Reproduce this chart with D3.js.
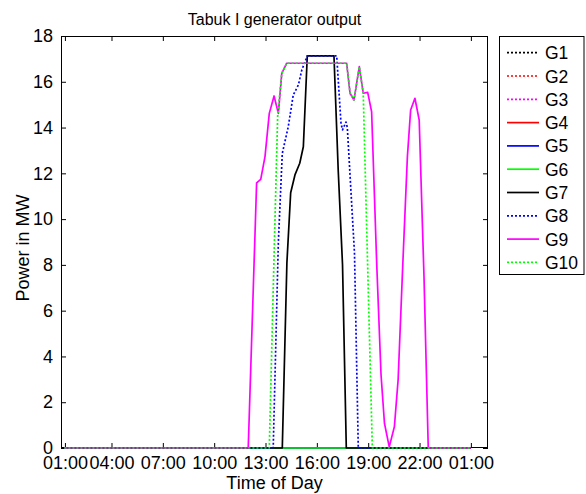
<!DOCTYPE html>
<html>
<head>
<meta charset="utf-8">
<script src="https://cdn.jsdelivr.net/npm/d3@7"></script>
<style>
  html, body { margin: 0; padding: 0; background: #fff; }
  svg { display: block; }
  text { font-family: "Liberation Sans", Arial, Helvetica, sans-serif; fill: #000; }
</style>
</head>
<body>
<svg id="chart" width="586" height="494"></svg>
<script>
// ---- data (hours of day, MW) ----
const seriesNames = ["G1","G2","G3","G4","G5","G6","G7","G8","G9","G10"];
const seriesColors = ["#000000","#ff0000","#ff00ff","#ff0000","#0000ff","#00ff00","#000000","#0000ff","#ff00ff","#00ff00"];
const seriesDotted = [true,true,true,false,false,false,false,true,false,true];

const G1 = [[1.25,0],[25,0]];
const G2 = [[1.25,0],[25,0]];
const G3 = [[1.25,0],[25,0]];
const G4 = [[1.25,0],[25,0]];
const G5 = [[1.25,0],[25,0]];
const G6 = [[1.25,0],[25,0]];
const G7 = [[1.25,0],[13.98,0],[14.25,8.1],[14.47,11.15],[14.72,11.93],[15.0,12.44],[15.21,13.16],[15.44,17.13],[17.0,17.13],[17.25,12.1],[17.5,8.0],[17.72,0],[25,0]];
const G8 = [[1.25,0],[13.45,0],[13.75,9.0],[13.98,12.87],[14.33,14.04],[14.62,15.42],[14.92,15.86],[15.12,16.51],[15.44,17.13],[17.16,17.13],[17.41,14.19],[17.5,13.9],[17.7,14.24],[17.78,14.0],[18.2,8.5],[18.42,0],[25,0]];
const G9 = [[1.25,0],[11.99,0],[12.48,11.58],[12.72,11.74],[12.97,12.73],[13.22,14.62],[13.5,15.38],[13.75,14.62],[13.95,16.37],[14.24,16.81],[17.74,16.81],[17.94,15.5],[18.17,15.2],[18.48,16.66],[18.71,15.5],[18.97,15.54],[19.2,14.69],[19.5,8.0],[19.75,3.2],[19.95,1.08],[20.23,0.05],[20.53,0.93],[20.75,3.0],[21.02,8.0],[21.29,12.73],[21.48,14.77],[21.73,15.28],[21.98,14.33],[22.26,7.5],[22.51,0],[25,0]];
const G10 = [[1.25,0],[13.22,0],[13.5,8.4],[13.71,14.5],[13.95,16.37],[14.24,16.81],[17.74,16.81],[17.94,15.5],[18.17,15.2],[18.48,16.66],[18.71,15.5],[19.24,0],[25,0]];
const seriesData = [G1,G2,G3,G4,G5,G6,G7,G8,G9,G10];

const xTickValues = [1.28, 4, 7, 10, 13, 16, 19, 22, 25];
const xTickLabels = ["01:00","04:00","07:00","10:00","13:00","16:00","19:00","22:00","01:00"];
const yTickValues = [0,2,4,6,8,10,12,14,16,18];

const titleText = "Tabuk I generator output";
const xLabel = "Time of Day";
const yLabel = "Power in MW";

// ---- layout ----
const svg = d3.select("#chart");
const L = 61, R = 488, T = 36, B = 448;
const x = d3.scaleLinear().domain([1.05, 26]).range([L, R]);
const y = d3.scaleLinear().domain([0, 18]).range([B, T]);
const FS = 18;

svg.append("rect").attr("width", 586).attr("height", 494).attr("fill", "#fff");
svg.append("rect").attr("x", L).attr("y", T).attr("width", R - L).attr("height", B - T).attr("fill", "#fff");

// axes (inward ticks, box)
const xAxisB = d3.axisBottom(x).tickValues(xTickValues).tickFormat((d, i) => xTickLabels[i]).tickSizeInner(-5).tickSizeOuter(0).tickPadding(8);
svg.append("g").attr("transform", `translate(0,${B})`).call(xAxisB);
const xAxisT = d3.axisTop(x).tickValues(xTickValues).tickFormat("").tickSizeInner(-5).tickSizeOuter(0);
svg.append("g").attr("transform", `translate(0,${T})`).call(xAxisT);
const yAxisL = d3.axisLeft(y).tickValues(yTickValues).tickSizeInner(-5).tickSizeOuter(0).tickPadding(8);
svg.append("g").attr("transform", `translate(${L},0)`).call(yAxisL);
const yAxisR = d3.axisRight(y).tickValues(yTickValues).tickFormat("").tickSizeInner(-5).tickSizeOuter(0);
svg.append("g").attr("transform", `translate(${R},0)`).call(yAxisR);
svg.selectAll(".domain").remove();
svg.selectAll(".tick line").attr("stroke", "#000").attr("stroke-width", 1);
svg.selectAll(".tick text").style("font-size", FS + "px").attr("fill", "#000");
svg.append("rect").attr("x", L + 0.5).attr("y", T + 0.5).attr("width", R - L - 1).attr("height", B - T - 1)
  .attr("fill", "none").attr("stroke", "#000").attr("stroke-width", 1);

// lines
const line = d3.line().x(d => x(d[0])).y(d => y(d[1]));
seriesData.forEach((data, i) => {
  svg.append("path").datum(data).attr("d", line)
    .attr("fill", "none")
    .attr("stroke", seriesColors[i])
    .attr("stroke-width", 1.7)
    .attr("stroke-linejoin", "round")
    .attr("stroke-dasharray", seriesDotted[i] ? "2,2" : null);
});

// title & labels
svg.append("text").attr("x", (L + R) / 2).attr("y", 25).attr("text-anchor", "middle").style("font-size", "16px").text(titleText);
svg.append("text").attr("x", (L + R) / 2).attr("y", 489).attr("text-anchor", "middle").style("font-size", FS + "px").text(xLabel);
svg.append("text").attr("transform", `translate(29,248) rotate(-90)`).attr("text-anchor", "middle").style("font-size", FS + "px").text(yLabel);

// legend
const lg = svg.append("g");
lg.append("rect").attr("x", 499.5).attr("y", 36.5).attr("width", 84.5).attr("height", 238).attr("fill", "#fff").attr("stroke", "#000").attr("stroke-width", 1);
seriesNames.forEach((name, i) => {
  const cy = 52.7 + i * 23.3;
  lg.append("line").attr("x1", 507).attr("x2", 539).attr("y1", cy).attr("y2", cy)
    .attr("stroke", seriesColors[i]).attr("stroke-width", 1.7)
    .attr("stroke-dasharray", seriesDotted[i] ? "2,2" : null);
  lg.append("text").attr("x", 545).attr("y", cy + 6.5).style("font-size", "17.5px").text(name);
});
</script>
</body>
</html>
